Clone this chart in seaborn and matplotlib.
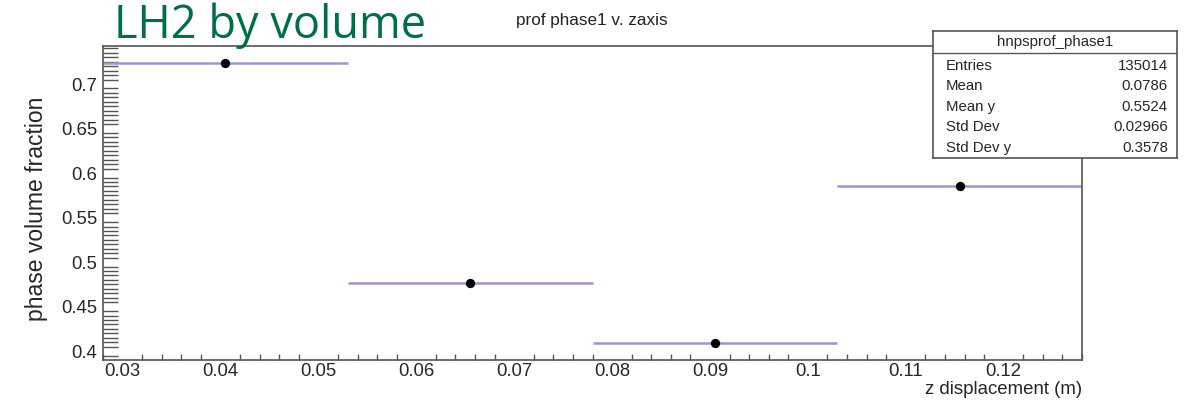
import numpy as np
import matplotlib
matplotlib.use("Agg")
import matplotlib.pyplot as plt
from matplotlib.ticker import MultipleLocator, FixedLocator
import seaborn as sns
import pandas as pd

# ---- data ----
bin_edges = [0.028, 0.053, 0.078, 0.103, 0.128]
bin_centers = [0.0405, 0.0655, 0.0905, 0.1155]
profile_values = [0.724, 0.4766, 0.4092, 0.5855]
x_ticks = [0.03, 0.04, 0.05, 0.06, 0.07, 0.08, 0.09, 0.10, 0.11, 0.12]
x_tick_labels = ["0.03", "0.04", "0.05", "0.06", "0.07", "0.08", "0.09", "0.1", "0.11", "0.12"]
y_ticks = [0.40, 0.45, 0.50, 0.55, 0.60, 0.65, 0.70]
y_tick_labels = ["0.4", "0.45", "0.5", "0.55", "0.6", "0.65", "0.7"]
stats_title = "hnpsprof_phase1"
stats_names = ["Entries", "Mean", "Mean y", "Std Dev", "Std Dev y"]
stats_values = ["135014", "0.0786", "0.5524", "0.02966", "0.3578"]

sns.set_style("white")
plt.rcParams['font.family'] = ['Liberation Sans', 'DejaVu Sans']

W, H = 1184, 403
fig = plt.figure(figsize=(W / 100, H / 100), dpi=100)
L, R, T, B = 103, 1082, 46, 360
ax = fig.add_axes([L / W, (H - B) / H, (R - L) / W, (B - T) / H])

df = pd.DataFrame({"z": bin_centers, "frac": profile_values,
                   "lo": bin_edges[:-1], "hi": bin_edges[1:]})

ax.hlines(df["frac"], df["lo"], df["hi"], color="#9b96cc", lw=1.8, zorder=2)
sns.scatterplot(data=df, x="z", y="frac", color="black", s=45, edgecolor="black",
                linewidth=0, ax=ax, zorder=3, legend=False)

ax.set_xlim(0.028, 0.128)
ax.set_ylim(0.3901, 0.7427)

frame_col = "#555555"
for side in ["left", "bottom", "right", "top"]:
    ax.spines[side].set_visible(True)
    ax.spines[side].set_color(frame_col)
    ax.spines[side].set_linewidth(1.2)

ax.xaxis.set_major_locator(FixedLocator(x_ticks))
ax.set_xticklabels(x_tick_labels)
ax.xaxis.set_minor_locator(MultipleLocator(0.002))
ax.yaxis.set_major_locator(FixedLocator(y_ticks))
ax.set_yticklabels(y_tick_labels)
ax.yaxis.set_minor_locator(MultipleLocator(0.005))

ax.tick_params(axis="x", which="major", direction="in", length=8.3, width=1.1,
               color=frame_col, labelsize=13.3, pad=2.5, top=False)
ax.tick_params(axis="x", which="minor", direction="in", length=4.3, width=1.0,
               color=frame_col, top=False, bottom=True)
ax.tick_params(axis="y", which="major", direction="in", length=21, width=1.1,
               color=frame_col, labelsize=13.3, pad=4, right=False)
ax.tick_params(axis="y", which="minor", direction="in", length=10.8, width=1.0,
               color=frame_col, right=False, left=True)

ax.set_xlabel("z displacement (m)", fontsize=13.4, ha="right", va="top")
ax.xaxis.set_label_coords(1.0, -0.066)
ax.set_ylabel("phase volume fraction", fontsize=16.5, va="center")
ax.yaxis.set_label_coords(-0.0675, 0.482)

fig.text(592 / W, 1 - 20 / H, "prof phase1 v. zaxis", fontsize=12.3,
         ha="center", va="center", color="#222222")
fig.text(114 / W, 1 - 38 / H, "LH2 by volume", fontsize=32.5,
         family=["Open Sans", "DejaVu Sans"], color="#006F47",
         ha="left", va="baseline")

# stats box
bx0, bx1, by0, by1 = 933, 1177, 31, 158
sax = fig.add_axes([bx0 / W, (H - by1) / H, (bx1 - bx0) / W, (by1 - by0) / H],
                   zorder=5)
sax.set_facecolor("white")
sax.set_xlim(bx0, bx1)
sax.set_ylim(by1, by0)
sax.set_xticks([])
sax.set_yticks([])
for s in sax.spines.values():
    s.set_color(frame_col)
    s.set_linewidth(1.2)
sax.axhline(53, color=frame_col, lw=1.0)
sax.text((bx0 + bx1) / 2, 42, stats_title, fontsize=10.8, ha="center", va="center")
row_y = [66, 86, 107, 127, 148]
for yy, nm, val in zip(row_y, stats_names, stats_values):
    sax.text(946, yy, nm, fontsize=10.8, ha="left", va="center")
    sax.text(1168, yy, val, fontsize=10.8, ha="right", va="center")

fig.savefig("out.png", dpi=100)
